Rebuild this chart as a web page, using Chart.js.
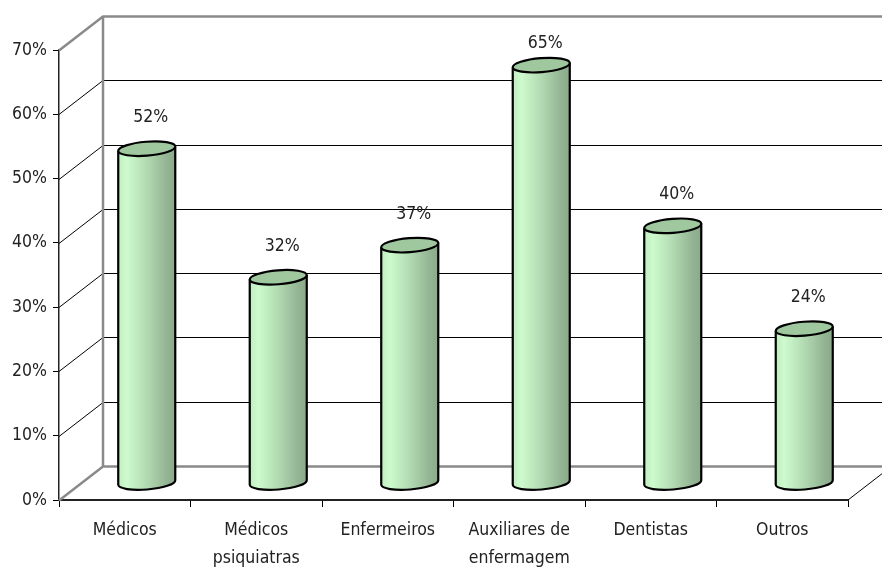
<!DOCTYPE html>
<html>
<head>
<meta charset="utf-8">
<script src="https://cdn.jsdelivr.net/npm/chart.js@4.4.1/dist/chart.umd.min.js"></script>
<style>
  html, body { margin: 0; padding: 0; background: #fff; }
  canvas { display: block; }
</style>
</head>
<body>
<canvas id="chart" width="882" height="567"></canvas>
<script>
// ---------------- Data ----------------
const categories = [
  "Médicos",
  ["Médicos", "psiquiatras"],
  "Enfermeiros",
  ["Auxiliares de", "enfermagem"],
  "Dentistas",
  "Outros"
];
const values = [52, 32, 37, 65, 40, 24];
const yMax = 70;
const yStep = 10;

// ---------------- Look ----------------
const FONT = { family: "'DejaVu Sans Condensed', 'Liberation Sans Narrow', sans-serif", size: 17.5, lineHeight: 1.6 };
const DX = 44, DY = -34;   // depth of the 3d box
const WALL = "#8a8a8a";

const whiteBg = {
  id: "whiteBg",
  beforeDraw(chart) {
    const c = chart.ctx;
    c.save();
    c.fillStyle = "#fff";
    c.fillRect(0, 0, chart.width, chart.height);
    c.restore();
  }
};

// back wall, floor and gridlines
const walls = {
  id: "walls",
  beforeDatasetsDraw(chart) {
    const { ctx, chartArea: { left, right, bottom }, scales: { y } } = chart;
    ctx.save();
    for (let v = 0; v <= yMax; v += yStep) {
      const yf = Math.round(y.getPixelForValue(v)) + 0.5;
      const edge = v === 0 || v === yMax;
      ctx.strokeStyle = edge ? WALL : "#000";
      ctx.lineWidth = edge ? 2.5 : 1;
      ctx.beginPath();
      ctx.moveTo(left, yf);
      ctx.lineTo(left + DX, yf + DY);
      ctx.lineTo(chart.width + 5, yf + DY);
      ctx.stroke();
    }
    // left edge of back wall
    ctx.strokeStyle = WALL;
    ctx.lineWidth = 2.5;
    ctx.beginPath();
    ctx.moveTo(left + DX, y.getPixelForValue(yMax) + DY);
    ctx.lineTo(left + DX, y.getPixelForValue(0) + DY);
    ctx.stroke();
    // right edge of floor
    ctx.strokeStyle = "#000";
    ctx.lineWidth = 1;
    ctx.beginPath();
    ctx.moveTo(right, bottom);
    ctx.lineTo(right + DX, bottom + DY);
    ctx.stroke();
    ctx.restore();
  }
};

// cylinders + value labels
const cylinders = {
  id: "cylinders",
  afterDatasetsDraw(chart) {
    const ctx = chart.ctx;
    const meta = chart.getDatasetMeta(0);
    const rot = -0.08, b = 7;
    ctx.save();
    meta.data.forEach((el, i) => {
      const cx = el.x + DX / 2;
      const a = el.width / 2;
      const yTop = el.y + DY / 2;
      const yBot = el.base + DY / 2;
      const ox = a * Math.cos(rot), oy = a * Math.sin(rot);

      const g = ctx.createLinearGradient(cx - a, 0, cx + a, 0);
      g.addColorStop(0, "#c2ecc2");
      g.addColorStop(0.15, "#cdfbcd");
      g.addColorStop(0.5, "#b2dab2");
      g.addColorStop(0.82, "#95b795");
      g.addColorStop(1, "#8aa98a");

      // body
      ctx.beginPath();
      ctx.moveTo(cx - ox, yTop - oy);
      ctx.lineTo(cx - ox, yBot - oy);
      ctx.ellipse(cx, yBot, a, b, rot, Math.PI, 0, true);
      ctx.lineTo(cx + ox, yTop + oy);
      ctx.closePath();
      ctx.fillStyle = g;
      ctx.fill();

      // outline of body (sides + bottom arc)
      ctx.beginPath();
      ctx.moveTo(cx - ox, yTop - oy);
      ctx.lineTo(cx - ox, yBot - oy);
      ctx.ellipse(cx, yBot, a, b, rot, Math.PI, 0, true);
      ctx.lineTo(cx + ox, yTop + oy);
      ctx.strokeStyle = "#000";
      ctx.lineWidth = 2.2;
      ctx.stroke();

      // top cap
      ctx.beginPath();
      ctx.ellipse(cx, yTop, a, b, rot, 0, Math.PI * 2);
      ctx.fillStyle = "#9fc89f";
      ctx.fill();
      ctx.stroke();

      // value label
      ctx.fillStyle = "#222";
      ctx.font = FONT.size + "px " + FONT.family;
      ctx.textAlign = "center";
      ctx.textBaseline = "middle";
      ctx.fillText(values[i] + "%", cx + 4, Math.max(yTop - 31, 43));
    });
    ctx.restore();
  }
};

new Chart(document.getElementById("chart"), {
  type: "bar",
  data: {
    labels: categories,
    datasets: [{
      data: values,
      backgroundColor: "rgba(0,0,0,0)",
      borderWidth: 0,
      categoryPercentage: 1,
      barPercentage: 0.435
    }]
  },
  options: {
    responsive: false,
    animation: false,
    events: [],
    layout: { padding: { top: 50, right: 34, left: 0, bottom: 0 } },
    plugins: { legend: { display: false }, tooltip: { enabled: false } },
    scales: {
      x: {
        afterFit: s => { s.height = 67; },
        grid: { offset: true, drawOnChartArea: false, tickLength: 7, color: "#000", lineWidth: 1 },
        border: { color: "#222", width: 2 },
        ticks: { color: "#222", font: FONT, maxRotation: 0, autoSkip: false, padding: 9 }
      },
      y: {
        min: 0,
        max: yMax,
        afterFit: s => { s.width = 59; },
        grid: { drawOnChartArea: false, tickLength: 6, color: "#000" },
        border: { color: "#222", width: 1.5 },
        ticks: { stepSize: yStep, color: "#222", font: FONT, padding: 6, callback: v => v + "%" }
      }
    }
  },
  plugins: [whiteBg, walls, cylinders]
});
</script>
</body>
</html>
